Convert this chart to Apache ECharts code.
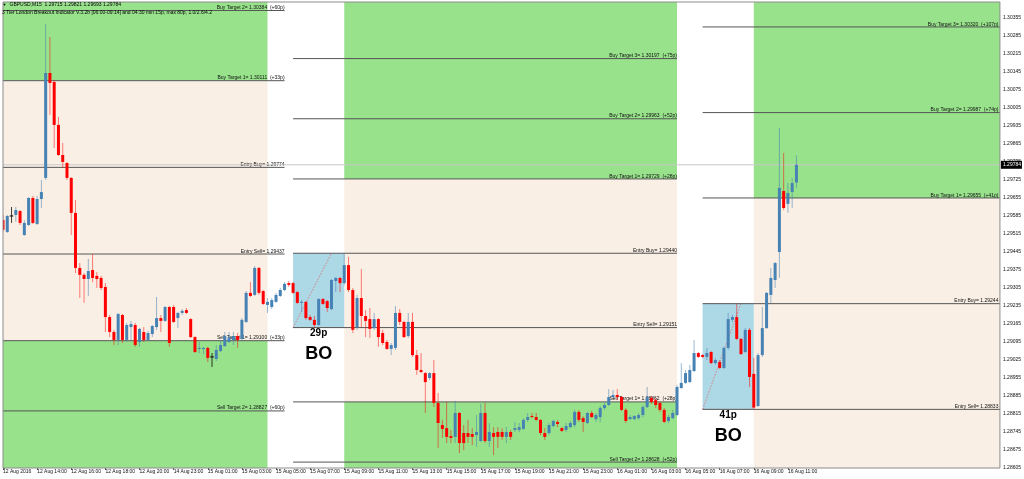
<!DOCTYPE html>
<html><head><meta charset="utf-8">
<script src="https://cdn.jsdelivr.net/npm/echarts@6/dist/echarts.min.js"></script>
<style>html,body{margin:0;padding:0;background:#fff}#c{width:1024px;height:479px}</style>
</head><body><div id="c"></div>
<script>
// ---------- data ----------
const headerSymbol = 'GBPUSD,M15';
const headerPrices = [1.29715, 1.29821, 1.29693, 1.29784];
const indicatorText = '3 Tier London Breakout Indicator V.3.2b [06:00-09:14] and 04:30 min 15p, max 80p, 1.0/2.6/4.2';

const tickBars = [0,8,16,24,32,40,48,56,64,72,80,88,96,104,112,120,128,136,144,152,160,168,176,184];
const tickLabels = ['12 Aug 2016','12 Aug 14:00','12 Aug 16:00','12 Aug 18:00','12 Aug 20:00','14 Aug 23:00',
  '15 Aug 01:00','15 Aug 03:00','15 Aug 05:00','15 Aug 07:00','15 Aug 09:00','15 Aug 11:00','15 Aug 13:00',
  '15 Aug 15:00','15 Aug 17:00','15 Aug 19:00','15 Aug 21:00','15 Aug 23:00','16 Aug 01:00','16 Aug 03:00',
  '16 Aug 05:00','16 Aug 07:00','16 Aug 09:00','16 Aug 11:00'];
const yTicks = [1.28605,1.28675,1.28745,1.28815,1.28885,1.28955,1.29025,1.29095,1.29165,1.29235,1.29305,1.29375,
  1.29445,1.29515,1.29585,1.29655,1.29725,1.29795,1.29865,1.29935,1.30005,1.30075,1.30145,1.30215,1.30285,1.30355];

// [open, high, low, close] per M15 bar
const ohlc = [
[1.29569,1.29589,1.29523,1.29531],[1.29523,1.29589,1.29519,1.29585],[1.29585,1.29620,1.29558,1.29585],[1.29589,1.29620,1.29562,1.29608],
[1.29604,1.29608,1.29550,1.29558],[1.29511,1.29569,1.29507,1.29558],[1.29550,1.29659,1.29546,1.29655],[1.29655,1.29663,1.29554,1.29558],
[1.29554,1.29663,1.29550,1.29651],[1.29651,1.29725,1.29616,1.29678],[1.29733,1.30332,1.29725,1.30141],[1.30141,1.30281,1.29978,1.30102],
[1.30106,1.30114,1.29849,1.29939],[1.29939,1.29970,1.29818,1.29822],[1.29822,1.29869,1.29772,1.29795],[1.29791,1.29795,1.29725,1.29733],
[1.29733,1.29736,1.29511,1.29597],[1.29597,1.29647,1.29363,1.29383],[1.29383,1.29402,1.29266,1.29356],[1.29356,1.29363,1.29247,1.29340],
[1.29340,1.29418,1.29274,1.29371],[1.29375,1.29437,1.29328,1.29344],[1.29352,1.29367,1.29305,1.29340],[1.29344,1.29352,1.29297,1.29305],
[1.29309,1.29324,1.29134,1.29192],[1.29192,1.29200,1.29114,1.29134],[1.29134,1.29142,1.29083,1.29103],[1.29103,1.29208,1.29083,1.29204],
[1.29200,1.29204,1.29091,1.29103],[1.29103,1.29169,1.29095,1.29161],[1.29153,1.29177,1.29103,1.29165],[1.29161,1.29169,1.29076,1.29083],
[1.29095,1.29149,1.29076,1.29146],[1.29134,1.29153,1.29095,1.29103],[1.29103,1.29138,1.29099,1.29130],[1.29126,1.29161,1.29114,1.29157],
[1.29153,1.29270,1.29142,1.29188],[1.29188,1.29200,1.29134,1.29177],[1.29177,1.29235,1.29173,1.29231],[1.29231,1.29235,1.29076,1.29091],
[1.29231,1.29239,1.29169,1.29173],[1.29188,1.29212,1.29149,1.29208],[1.29208,1.29223,1.29200,1.29216],[1.29219,1.29227,1.29204,1.29208],
[1.29184,1.29188,1.29111,1.29114],[1.29114,1.29118,1.29052,1.29056],[1.29068,1.29095,1.29052,1.29072],[1.29068,1.29076,1.29048,1.29072],
[1.29072,1.29076,1.29017,1.29033],[1.29037,1.29052,1.28998,1.29037],[1.29029,1.29083,1.29021,1.29064],[1.29060,1.29103,1.29056,1.29083],
[1.29079,1.29134,1.29076,1.29118],[1.29095,1.29134,1.29091,1.29114],[1.29103,1.29134,1.29083,1.29118],[1.29118,1.29130,1.29072,1.29103],
[1.29107,1.29188,1.29103,1.29181],[1.29173,1.29293,1.29169,1.29286],[1.29286,1.29328,1.29270,1.29274],[1.29278,1.29390,1.29274,1.29383],
[1.29383,1.29387,1.29278,1.29286],[1.29293,1.29297,1.29239,1.29243],[1.29239,1.29266,1.29208,1.29251],[1.29231,1.29266,1.29223,1.29258],
[1.29251,1.29286,1.29247,1.29278],[1.29274,1.29305,1.29270,1.29297],[1.29297,1.29328,1.29293,1.29321],[1.29324,1.29332,1.29309,1.29317],
[1.29324,1.29328,1.29282,1.29286],[1.29289,1.29293,1.29243,1.29247],[1.29247,1.29258,1.29212,1.29251],[1.29251,1.29254,1.29181,1.29188],
[1.29192,1.29200,1.29177,1.29181],[1.29181,1.29196,1.29151,1.29161],[1.29161,1.29266,1.29157,1.29262],[1.29262,1.29266,1.29239,1.29243],
[1.29254,1.29258,1.29212,1.29227],[1.29223,1.29340,1.29219,1.29336],[1.29332,1.29348,1.29289,1.29344],[1.29344,1.29348,1.29289,1.29324],
[1.29324,1.29440,1.29317,1.29394],[1.29394,1.29426,1.29289,1.29297],[1.29297,1.29305,1.29130,1.29142],[1.29153,1.29278,1.29142,1.29266],
[1.29266,1.29379,1.29153,1.29196],[1.29196,1.29219,1.29114,1.29177],[1.29184,1.29227,1.29111,1.29146],[1.29149,1.29208,1.29142,1.29184],
[1.29184,1.29188,1.29076,1.29114],[1.29130,1.29142,1.29083,1.29091],[1.29095,1.29103,1.29064,1.29068],[1.29068,1.29091,1.29044,1.29083],
[1.29072,1.29235,1.29064,1.29208],[1.29208,1.29223,1.29161,1.29173],[1.29173,1.29177,1.29111,1.29114],[1.29118,1.29208,1.29111,1.29173],
[1.29173,1.29208,1.29037,1.29044],[1.29044,1.29064,1.28967,1.28986],[1.28986,1.29052,1.28974,1.28978],[1.28974,1.28978,1.28819,1.28939],
[1.28955,1.28978,1.28947,1.28974],[1.28974,1.29025,1.28842,1.28858],[1.28858,1.28897,1.28683,1.28780],[1.28772,1.28792,1.28722,1.28757],
[1.28760,1.28862,1.28702,1.28726],[1.28729,1.28753,1.28702,1.28722],[1.28726,1.28866,1.28702,1.28819],[1.28819,1.28823,1.28663,1.28702],
[1.28741,1.28772,1.28675,1.28702],[1.28741,1.28792,1.28702,1.28726],[1.28737,1.28760,1.28694,1.28726],[1.28733,1.28811,1.28687,1.28745],
[1.28710,1.28854,1.28706,1.28819],[1.28819,1.28858,1.28702,1.28710],[1.28710,1.28780,1.28687,1.28745],[1.28741,1.28764,1.28655,1.28726],
[1.28745,1.28764,1.28683,1.28726],[1.28745,1.28760,1.28714,1.28726],[1.28726,1.28764,1.28702,1.28745],[1.28745,1.28753,1.28714,1.28726],
[1.28753,1.28784,1.28745,1.28760],[1.28753,1.28780,1.28745,1.28764],[1.28757,1.28799,1.28753,1.28792],[1.28792,1.28819,1.28784,1.28803],
[1.28807,1.28819,1.28799,1.28803],[1.28803,1.28819,1.28788,1.28792],[1.28792,1.28795,1.28733,1.28741],[1.28741,1.28760,1.28714,1.28726],
[1.28741,1.28780,1.28733,1.28772],[1.28768,1.28792,1.28764,1.28788],[1.28784,1.28792,1.28764,1.28776],[1.28760,1.28764,1.28745,1.28749],
[1.28753,1.28780,1.28745,1.28768],[1.28764,1.28788,1.28760,1.28780],[1.28772,1.28831,1.28764,1.28823],[1.28823,1.28831,1.28784,1.28792],
[1.28799,1.28807,1.28745,1.28784],[1.28780,1.28823,1.28776,1.28819],[1.28819,1.28827,1.28799,1.28803],[1.28795,1.28819,1.28784,1.28811],
[1.28803,1.28846,1.28784,1.28838],[1.28838,1.28858,1.28831,1.28850],[1.28850,1.28912,1.28846,1.28881],[1.28881,1.28908,1.28877,1.28889],
[1.28889,1.28912,1.28869,1.28881],[1.28881,1.28885,1.28827,1.28831],[1.28831,1.28838,1.28780,1.28788],[1.28795,1.28811,1.28792,1.28803],
[1.28795,1.28811,1.28792,1.28807],[1.28799,1.28819,1.28792,1.28811],[1.28811,1.28850,1.28803,1.28842],[1.28842,1.28920,1.28838,1.28881],
[1.28877,1.28885,1.28854,1.28862],[1.28869,1.28877,1.28838,1.28850],[1.28858,1.28862,1.28823,1.28831],[1.28831,1.28838,1.28780,1.28784],
[1.28788,1.28811,1.28780,1.28803],[1.28799,1.28831,1.28795,1.28819],[1.28811,1.28928,1.28807,1.28920],[1.28916,1.29013,1.28912,1.28936],
[1.28936,1.28986,1.28932,1.28974],[1.28939,1.29006,1.28936,1.28986],[1.28982,1.29103,1.28978,1.29052],[1.29052,1.29056,1.29033,1.29037],
[1.29044,1.29048,1.29033,1.29037],[1.29037,1.29072,1.29025,1.29052],[1.29056,1.29060,1.29009,1.29013],[1.29013,1.29033,1.29006,1.29025],
[1.29017,1.29025,1.28990,1.28994],[1.28994,1.29076,1.28990,1.29072],[1.29072,1.29208,1.29064,1.29184],[1.29181,1.29200,1.29173,1.29192],
[1.29192,1.29244,1.29103,1.29107],[1.29107,1.29111,1.29044,1.29048],[1.29056,1.29149,1.29052,1.29142],[1.29142,1.29149,1.28920,1.28959],
[1.28971,1.29033,1.28833,1.28840],[1.28846,1.29052,1.28842,1.29044],[1.29044,1.29231,1.29037,1.29149],[1.29149,1.29289,1.29146,1.29286],
[1.29278,1.29383,1.29247,1.29344],[1.29336,1.29406,1.29305,1.29402],[1.29445,1.29927,1.29344,1.29694],[1.29682,1.29830,1.29608,1.29616],
[1.29632,1.29713,1.29597,1.29674],[1.29678,1.29733,1.29616,1.29713],[1.29715,1.29821,1.29693,1.29784]
];
const lastPrice = 1.29784;

// sessions (bar positions; null = runs off the chart edge)
const zoneStart = [null, 80, 176];
const zoneEnd = [62, 158, null];
const zoneBuyT1 = [1.30111, 1.29729, 1.29655];
const zoneSellT1 = [1.29100, 1.28862, null];
const lineStart = [null, 68, 164];
const lineEnd = [66, 158, null];

const levelNames = [
  ['Buy Target 2','Buy Target 1','Entry Buy','Entry Sell','Sell Target 1','Sell Target 2'],
  ['Buy Target 3','Buy Target 2','Buy Target 1','Entry Buy','Entry Sell','Sell Target 1','Sell Target 2'],
  ['Buy Target 3','Buy Target 2','Buy Target 1','Entry Buy','Entry Sell']
];
const levelPrices = [
  [1.30384,1.30111,1.29774,1.29437,1.29100,1.28827],
  [1.30197,1.29963,1.29729,1.29440,1.29151,1.28862,1.28628],
  [1.30320,1.29987,1.29655,1.29244,1.28833]
];
const levelPips = [
  [60,33,null,null,33,60],
  [75,52,28,null,null,28,52],
  [107,74,41,null,null]
];

// breakout range boxes
const boxStart = [68, 164];
const boxEnd = [80, 176];
const boxLow = [1.29151, 1.28833];
const boxHigh = [1.29440, 1.29244];
const boxPips = ['29p', '41p'];
const boxTag = ['BO', 'BO'];
const boxDiagEnd = [77, 173];

// ---------- styles ----------
const GREEN = '#97E28B', PEACH = '#FAEFE5', BOXBLUE = '#ADD8E6';
const UP = '#4682B4', DOWN = '#FF0000';
const FONT = 'Liberation Sans, Arial, sans-serif';
const XMAX = 233.7;

function clampX(v, cs) { return Math.max(cs.x, Math.min(cs.x + cs.width, v)); }

const chart = echarts.init(document.getElementById('c'), null, {renderer: 'canvas'});

const levelRows = [];
levelNames.forEach((arr, s) => arr.forEach((n, k) => levelRows.push([s, levelPrices[s][k], k])));

const option = {
  animation: false,
  backgroundColor: '#fff',
  graphic: [
    {type: 'text', z: 100, left: 2.5, top: 3, style: {text: '\u25BC', fontSize: 4, fontFamily: FONT, fill: '#000'}},
    {type: 'text', z: 100, left: 9.5, top: 2.5, style: {text: headerSymbol + '  ' + headerPrices.map(p => p.toFixed(5)).join(' '), fontSize: 5, fontFamily: FONT, fill: '#000'}},
    {type: 'text', z: 100, left: 2, top: 10.5, style: {text: indicatorText, fontSize: 5, fontFamily: FONT, fill: '#000'}}
  ],
  grid: {left: 1.3, right: 23, top: 2, bottom: 11, show: false},
  xAxis: {
    type: 'value', min: 0, max: XMAX, interval: 8,
    axisLine: {show: false}, splitLine: {show: false},
    axisTick: {show: true, length: 2, lineStyle: {color: '#555'}, customValues: tickBars},
    axisLabel: {customValues: tickBars, align: 'left', fontSize: 5, fontFamily: FONT, color: '#111', margin: 1,
      formatter: v => { const k = tickBars.indexOf(Math.round(v)); return k >= 0 ? tickLabels[k] : ''; }}
  },
  yAxis: {
    type: 'value', position: 'right', min: 1.28605, max: 1.30417, interval: 0.0007,
    axisLine: {show: false}, splitLine: {show: false},
    axisTick: {show: true, length: 2, lineStyle: {color: '#555'}, customValues: yTicks},
    axisLabel: {customValues: yTicks, fontSize: 5, fontFamily: FONT, color: '#111', margin: 3,
      formatter: v => v.toFixed(5)}
  },
  series: [
    { // background zones
      type: 'custom', z: 1, silent: true,
      data: [[0, 1.295], [1, 1.295], [2, 1.295]],
      renderItem: (params, api) => {
        const s = params.dataIndex, cs = params.coordSys;
        const yMid = 1.295;
        const x1 = zoneStart[s] == null ? cs.x : clampX(api.coord([zoneStart[s], yMid])[0], cs);
        const x2 = zoneEnd[s] == null ? cs.x + cs.width : clampX(api.coord([zoneEnd[s], yMid])[0], cs);
        const top = cs.y, bot = cs.y + cs.height;
        const yB = api.coord([0, zoneBuyT1[s]])[1];
        const yS = zoneSellT1[s] == null ? bot : api.coord([0, zoneSellT1[s]])[1];
        const ch = [
          {type: 'rect', shape: {x: x1, y: top, width: x2 - x1, height: yB - top}, style: {fill: GREEN}},
          {type: 'rect', shape: {x: x1, y: yB, width: x2 - x1, height: yS - yB}, style: {fill: PEACH}}
        ];
        if (zoneSellT1[s] != null) ch.push({type: 'rect', shape: {x: x1, y: yS, width: x2 - x1, height: bot - yS}, style: {fill: GREEN}});
        return {type: 'group', children: ch};
      }
    },
    { // breakout boxes
      type: 'custom', z: 2, silent: true,
      data: [[boxStart[0], boxLow[0]], [boxStart[1], boxLow[1]]],
      renderItem: (params, api) => {
        const b = params.dataIndex;
        const p1 = api.coord([boxStart[b], boxHigh[b]]);
        const p2 = api.coord([boxEnd[b], boxLow[b]]);
        const d2 = api.coord([boxDiagEnd[b], boxHigh[b]]);
        return {type: 'group', children: [
          {type: 'rect', shape: {x: p1[0], y: p1[1], width: p2[0] - p1[0], height: p2[1] - p1[1]}, style: {fill: BOXBLUE}},
          {type: 'line', shape: {x1: p1[0], y1: p2[1], x2: d2[0], y2: d2[1]}, style: {stroke: '#E06A6A', lineWidth: 0.8, lineDash: [1.5, 1.5]}}
        ]};
      }
    },
    { // level lines + labels
      type: 'custom', z: 3, silent: true, data: levelRows,
      renderItem: (params, api) => {
        const cs = params.coordSys;
        const s = api.value(0), price = api.value(1), k = api.value(2);
        const y = api.coord([0, price])[1];
        const x1 = lineStart[s] == null ? cs.x : clampX(api.coord([lineStart[s], price])[0], cs);
        const x2 = lineEnd[s] == null ? cs.x + cs.width : clampX(api.coord([lineEnd[s], price])[0], cs);
        const pips = levelPips[s][k];
        const txt = levelNames[s][k] + '= ' + price.toFixed(5) + (pips != null ? '  (+' + pips + 'p)' : '');
        return {type: 'group', children: [
          {type: 'line', shape: {x1: x1, y1: y, x2: x2, y2: y}, style: {stroke: '#555', lineWidth: 1}},
          {type: 'text', style: {text: txt, x: x2 - (lineEnd[s] == null ? 1.5 : 0), y: y - 0.3, align: 'right', verticalAlign: 'bottom',
            fontSize: 5, fontFamily: FONT, fill: '#111'}}
        ]};
      }
    },
    { // current price line
      type: 'custom', z: 3.5, silent: true, data: [[0, lastPrice]],
      renderItem: (params, api) => {
        const cs = params.coordSys;
        const y = api.coord([0, lastPrice])[1];
        return {type: 'line', shape: {x1: cs.x, y1: y, x2: cs.x + cs.width, y2: y}, style: {stroke: '#C8C8C8', lineWidth: 1}};
      }
    },
    { // candles
      type: 'custom', z: 4, silent: true, clip: true,
      encode: {x: 0, y: [1, 2, 3, 4]},
      data: ohlc.map((r, i) => [i, r[0], r[1], r[2], r[3]]),
      renderItem: (params, api) => {
        const i = api.value(0), o = api.value(1), h = api.value(2), l = api.value(3), c = api.value(4);
        const pO = api.coord([i, o]), pH = api.coord([i, h]), pL = api.coord([i, l]), pC = api.coord([i, c]);
        const x = pO[0];
        const flat = Math.abs(c - o) < 1e-7, up = c > o;
        const body = flat ? '#000' : (up ? UP : DOWN);
        const wick = flat ? 'rgba(0,0,0,0.75)' : (up ? 'rgba(70,130,180,0.55)' : 'rgba(255,0,0,0.5)');
        const w = flat ? 3.6 : 3;
        const top = Math.min(pO[1], pC[1]), bot = Math.max(pO[1], pC[1]);
        return {type: 'group', children: [
          {type: 'line', shape: {x1: x, y1: pH[1], x2: x, y2: pL[1]}, style: {stroke: wick, lineWidth: 1}},
          {type: 'rect', shape: {x: x - w / 2, y: flat ? top - 0.5 : top, width: w, height: Math.max(bot - top, 1)}, style: {fill: body}}
        ]};
      }
    },
    { // box annotations, frame and price tag
      type: 'custom', z: 6, silent: true, data: [[0, 1.295], [1, 1.295], [2, 1.295]],
      renderItem: (params, api) => {
        const cs = params.coordSys;
        if (params.dataIndex < 2) {
          const b = params.dataIndex;
          const cx = (api.coord([boxStart[b], boxLow[b]])[0] + api.coord([boxEnd[b], boxLow[b]])[0]) / 2;
          const yb = api.coord([boxStart[b], boxLow[b]])[1];
          return {type: 'group', children: [
            {type: 'text', style: {text: boxPips[b], x: cx, y: yb + 5.5, align: 'center', verticalAlign: 'middle',
              fontSize: 10, fontWeight: 'bold', fontFamily: FONT, fill: '#000'}},
            {type: 'text', style: {text: boxTag[b], x: cx, y: yb + 26.5, align: 'center', verticalAlign: 'middle',
              fontSize: 18, fontWeight: 'bold', fontFamily: FONT, fill: '#000'}}
          ]};
        }
        const y = api.coord([0, lastPrice])[1];
        return {type: 'group', children: [
          {type: 'rect', shape: {x: cs.x, y: cs.y, width: cs.width, height: cs.height}, style: {fill: 'none', stroke: '#8C8C8C', lineWidth: 1}},
          {type: 'rect', shape: {x: cs.x + cs.width + 1, y: y - 4, width: 21, height: 8}, style: {fill: '#000'}},
          {type: 'text', style: {text: lastPrice.toFixed(5), x: cs.x + cs.width + 3, y: y, align: 'left', verticalAlign: 'middle',
            fontSize: 5, fontFamily: FONT, fill: '#fff'}}
        ]};
      }
    }
  ]
};
chart.setOption(option);
</script>
</body></html>
